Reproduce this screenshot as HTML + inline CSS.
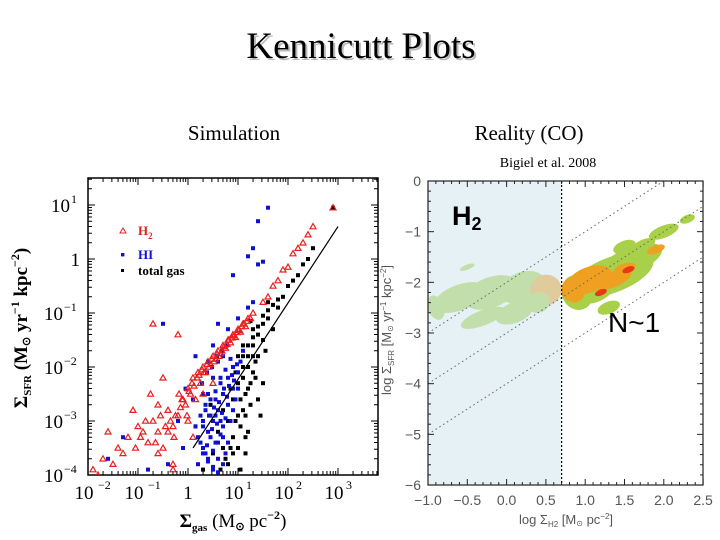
<!DOCTYPE html>
<html><head><meta charset="utf-8"><style>
body{margin:0;background:#fff;width:720px;height:540px;overflow:hidden;font-family:"Liberation Serif",serif}
svg{position:absolute;left:0;top:0}
</style></head><body>
<svg id="s" width="720" height="540">
<text x="361" y="58" font-size="37" text-anchor="middle" fill="#bbb" font-family="Liberation Serif" transform="translate(2,2)">Kennicutt Plots</text>
<text x="361" y="58" font-size="37" text-anchor="middle" fill="#000" font-family="Liberation Serif">Kennicutt Plots</text>
<text x="234" y="140" font-size="21" text-anchor="middle" font-family="Liberation Serif">Simulation</text>
<text x="529" y="140" font-size="21" text-anchor="middle" font-family="Liberation Serif">Reality (CO)</text>
<text x="548" y="167" font-size="14" text-anchor="middle" font-family="Liberation Serif">Bigiel et al. 2008</text>
<g id="L"></g>
<g id="R"></g>
</svg>
<script>
// Left chart data (log10 values)
const h2X=[-1.9,-1.8,-1.6,-1.3,-1.2,-1,-0.9,-0.8,-0.7,-0.6,-0.5,-0.4,-0.3,-0.2,-0.1,0,0.1,0.2,0.3,0.4,0.5,0.6,0.7,0.8,0.9,1,1.1,1.2,1.3,1.5,1.7,1.9,2.1,2.3,2.5,2.9,-0.7,-0.2,-1.1,-0.5,0,0.3,-1.4,0.5,-0.3,0.1,0.35,0.45,0.55,0.65,0.75,0.85,0.95,1.05,1.15,1.25,-0.6,-0.35,-0.15,0.05,0.25,
 0.02,0.08,0.12,0.18,0.22,0.28,0.32,0.38,0.42,0.48,0.52,0.58,0.62,0.68,0.72,0.78,0.82,0.88,0.92,0.98,1.02,1.08,1.12,1.18,-0.05,-0.12,-0.25,-0.4,-0.55,-0.65,-0.85,-1.05,-1.5,-0.95,-0.45,-0.28,-0.18,-0.02,0.15,1.6,1.8,2.0,2.2,2.4,-1.7,-0.75,-0.6,-0.3];
const h2Y=[-3.9,-4,-3.2,-3.6,-3.3,-3.1,-3.2,-3.4,-3,-3.2,-3.5,-2.8,-3.1,-2.9,-2.6,-2.4,-2.2,-2.1,-2,-1.9,-1.8,-1.7,-1.6,-1.5,-1.4,-1.3,-1.2,-1.1,-1,-0.8,-0.5,-0.2,0.1,0.3,0.6,0.95,-1.2,-1.4,-2.8,-2.2,-3,-2.5,-3.5,-2.3,-3.8,-3.3,-2.1,-1.95,-1.85,-1.75,-1.65,-1.55,-1.45,-1.35,-1.25,-1.1,-2.7,-3.0,-2.75,-2.5,-2.3,
 -2.45,-2.3,-2.35,-2.2,-2.15,-2.05,-2.1,-1.95,-2.0,-1.85,-1.9,-1.75,-1.8,-1.7,-1.62,-1.58,-1.5,-1.46,-1.42,-1.36,-1.32,-1.25,-1.2,-1.15,-2.7,-2.6,-2.9,-3.2,-2.9,-3.4,-3.0,-3.5,-3.8,-3.3,-3.1,-3.3,-2.5,-2.9,-2.6,-0.7,-0.4,-0.15,0.2,0.45,-3.7,-2.5,-3.6,-3.9];
const hiX=[0.2,0.3,0.4,0.5,0.6,0.7,0.8,0.9,0.4,0.5,0.6,0.3,0.2,0.4,0.5,0.6,0.7,0.8,0.9,1,0.7,0.5,1.1,0.8,1.2,1.3,1.4,1.5,1.2,1.4,1.6,0.9,-0.5,-1.6,-0.4,0.1,0.25,0.35,0.45,0.55,0.65,0.75,0.85,0.95,1.05,-1.3,0.15,0.6,1,1.3,-0.1,-0.8,0.35,0.55,0.45,0.65,
 0.25,0.3,0.38,0.42,0.48,0.52,0.58,0.62,0.68,0.72,0.78,0.82,0.88,0.92,0.98,0.3,0.4,0.5,0.6,0.7,0.35,0.45,0.55,0.65,0.75,0.85,0.28,0.38,0.48,0.58,0.68,0.78,0.5,0.6,0.7,0.4,0.55,0.65,0.75,0.3,0.9,1.0,0.8,0.15,-0.05,-0.2];
const hiY=[-3.8,-3.5,-3.2,-3,-2.8,-2.5,-2.2,-2,-2.5,-2.2,-1.9,-3,-3.3,-3.7,-3.9,-3.4,-3.1,-2.7,-2.4,-2.1,-1.8,-1.6,-1.7,-1.3,-0.9,0.2,-0.1,-0.05,0.05,0.7,0.95,-0.3,-1.2,-3.7,-3.8,-2.6,-2.9,-2.7,-3.3,-2.6,-2.2,-3.6,-3,-2.6,-1.9,-3.3,-1.8,-1.2,-1.1,-0.8,-3.5,-3.9,-3.6,-3.4,-2.9,-3.0,
 -3.4,-3.1,-3.45,-2.9,-3.15,-2.75,-3.05,-2.65,-2.85,-2.4,-2.55,-2.35,-2.15,-2.25,-1.95,-3.6,-3.75,-3.55,-3.7,-3.3,-2.8,-2.6,-2.45,-2.3,-2.05,-1.85,-2.3,-2.1,-2.0,-1.8,-1.7,-1.6,-3.85,-3.95,-3.8,-1.9,-2.9,-3.25,-2.95,-2.5,-2.8,-2.4,-3.4,-3.1,-2.4,-3.0];
const tgX=[0.3,0.5,0.6,0.7,0.8,0.9,1,1.1,1.2,1.3,1.4,1.5,1.6,1.8,1.9,2,2.1,2.3,2.5,2.9,1,1.1,1.2,1.3,1.4,1.2,0.9,0.8,1.1,1.3,1.5,1.7,1.6,1.4,1.0,1.5,1.45,0.7,1.05,0.95,1.25,0.15,0.45,1.15,0.85,1.35,1.55,
 0.9,1.0,1.1,1.2,1.3,1.05,1.15,1.25,1.35,0.95,1.05,1.15,0.85,0.75,0.65,1.1,1.2,1.3,1.4,1.5,1.6,1.7,1.8,2.2,2.4,1.25,1.0,0.9,1.15];
const tgY=[-3.9,-3.6,-3.2,-3.5,-3,-2.6,-2.3,-2,-1.8,-1.6,-1.4,-1.2,-1.1,-0.9,-0.7,-0.5,-0.4,-0.1,0.2,0.95,-3.5,-2.8,-2.4,-2.1,-2.6,-3.2,-3.3,-3.8,-1.6,-1.3,-1.5,-1.3,-0.8,-1.8,-1.8,-2.3,-2.9,-2.8,-3.9,-2.1,-1.15,-3.1,-2.7,-3.6,-2.4,-1.9,-1.7,
 -2.0,-2.1,-2.2,-2.0,-1.8,-2.6,-2.5,-2.3,-2.2,-3.0,-3.1,-2.9,-3.5,-3.7,-3.9,-1.8,-1.6,-1.45,-1.25,-1.05,-0.95,-0.85,-0.75,-0.3,0.0,-2.7,-2.9,-3.6,-3.3];
const fitX=[0.1,3];
const fitY=[-3.5,0.6];
const xTickL=[-2,-1,0,1,2,3];
const xTickLabelsL=["10","10","1","10","10","10"];
const xTickSupL=["−2","−1","","1","2","3"];
const yTickL=[1,0,-1,-2,-3,-4];
const yTickSupL=["1","","−1","−2","−3","−4"];
// Right chart data
const blobX=[1.35,1.6,1.1,0.9,2.0,2.3,1.3,1.5,1.05,0.85,1.35,1.5,1.2,1.55,-0.6,-0.2,0.2,0.5,-0.9,-0.3,0.1,0.4,-0.5,1.75,1.9];
const blobY=[-1.85,-1.55,-2.1,-2.2,-1.0,-0.75,-2.5,-1.3,-1.95,-2.15,-1.95,-1.75,-2.2,-1.75,-2.3,-2.2,-2.1,-2.15,-2.5,-2.7,-2.6,-2.4,-1.7,-1.25,-1.35];
const blobRx=[0.55,0.4,0.3,0.2,0.2,0.1,0.15,0.15,0.3,0.15,0.25,0.15,0.08,0.08,0.35,0.35,0.3,0.2,0.1,0.3,0.25,0.15,0.1,0.15,0.12];
const blobRy=[0.35,0.25,0.3,0.35,0.12,0.08,0.12,0.12,0.25,0.25,0.15,0.12,0.06,0.06,0.25,0.3,0.3,0.3,0.25,0.15,0.2,0.2,0.05,0.1,0.08];
const blobLevel=[0,0,0,0,0,0,0,0,1,1,1,1,2,2,0,0,0,1,0,0,0,0,0,0,1];
const xTickR=[-1,-0.5,0,0.5,1,1.5,2,2.5];
const xTickLabelsR=["−1.0","−0.5","0.0","0.5","1.0","1.5","2.0","2.5"];
const yTickR=[0,-1,-2,-3,-4,-5,-6];
const yTickLabelsR=["0","−1","−2","−3","−4","−5","−6"];
const lineOffsets=[-2,-3,-4];

const NS="http://www.w3.org/2000/svg";
function mk(p,t,a,txt){const e=document.createElementNS(NS,t);for(const k in a)e.setAttribute(k,a[k]);if(txt!==undefined)e.textContent=txt;p.appendChild(e);return e;}
// LEFT
const L=document.getElementById('L');
const lx=v=>88+(v+2)*50, ly=v=>259-v*54;
const lx0=88,lx1=378,ly0=178,ly1=475;
let e=mk(L,'rect',{x:lx0,y:ly0,width:lx1-lx0,height:ly1-ly0,fill:'#fff',stroke:'#000','stroke-width':1.5});

for(let d=-2;d<4;d++)for(let m=1;m<10;m++){const x=lx(d+Math.log10(m));if(x>lx1)continue;const len=m==1?7:4;
 mk(L,'line',{x1:x,y1:ly1,x2:x,y2:ly1-len,stroke:'#000','stroke-width':1});mk(L,'line',{x1:x,y1:ly0,x2:x,y2:ly0+len,stroke:'#000','stroke-width':1});}
for(let d=-4;d<2;d++)for(let m=1;m<10;m++){const y=ly(d+Math.log10(m));if(y<ly0)continue;const len=m==1?7:4;
 mk(L,'line',{x1:lx0,y1:y,x2:lx0+len,y2:y,stroke:'#000','stroke-width':1});mk(L,'line',{x1:lx1,y1:y,x2:lx1-len,y2:y,stroke:'#000','stroke-width':1});}
const clip=mk(L,'clipPath',{id:'lc'});mk(clip,'rect',{x:lx0,y:ly0,width:lx1-lx0,height:ly1-ly0});
const pts=mk(L,'g',{'clip-path':'url(#lc)'});
for(let i=0;i<tgX.length;i++){e=mk(pts,'rect',{x:lx(tgX[i])-2,y:ly(tgY[i])-2,width:4,height:4,fill:'#000'});
 }
for(let i=0;i<hiX.length;i++){e=mk(pts,'rect',{x:lx(hiX[i])-2,y:ly(hiY[i])-2,width:4,height:4,fill:'#1010d0'});
 }
for(let i=0;i<h2X.length;i++){const x=lx(h2X[i]),y=ly(h2Y[i]);
 e=mk(pts,'polygon',{points:`${x},${y-3} ${x-3},${y+2.2} ${x+3},${y+2.2}`,fill:'none',stroke:'#e82020','stroke-width':1.2});
 }
e=mk(L,'line',{x1:lx(fitX[0]),y1:ly(fitY[0]),x2:lx(fitX[1]),y2:ly(fitY[1]),stroke:'#000','stroke-width':1.2});

xTickL.forEach((v,i)=>{const t=mk(L,'text',{x:lx(v)+(xTickSupL[i]?-4:0),y:499,'font-size':19,'text-anchor':'middle','font-family':'Liberation Serif'},xTickLabelsL[i]);
 
 if(xTickSupL[i])mk(L,'text',{x:lx(v)+(v==-1||v==-2?10:8),y:489,'font-size':12,'font-family':'Liberation Serif'},xTickSupL[i]);});
yTickL.forEach((v,i)=>{const sup=yTickSupL[i];const t=mk(L,'text',{x:sup?(sup.length>1?63:70):80,y:ly(v)+7,'font-size':19,'text-anchor':'end','font-family':'Liberation Serif'},sup?'10':'1');
 
 if(sup)mk(L,'text',{x:sup.length>1?64:71,y:ly(v)-2,'font-size':12,'font-family':'Liberation Serif'},sup);});
e=mk(L,'text',{x:233,y:527,'font-size':19,'text-anchor':'middle','font-family':'Liberation Serif','font-weight':'bold'});

e.innerHTML='Σ<tspan font-size="11" dy="4">gas</tspan><tspan dy="-4" font-weight="normal"> (M</tspan><tspan font-size="11" dy="3">⊙</tspan><tspan dy="-3" font-weight="normal"> pc</tspan><tspan font-size="12" dy="-8">−2</tspan><tspan dy="8" font-weight="normal">)</tspan>';
e=mk(L,'text',{x:0,y:0,'font-size':19,'text-anchor':'middle','font-family':'Liberation Serif','font-weight':'bold',transform:'translate(27,328) rotate(-90)'});

e.innerHTML='Σ<tspan font-size="11" dy="4">SFR</tspan><tspan dy="-4"> (M</tspan><tspan font-size="11" dy="3">⊙</tspan><tspan dy="-3"> yr</tspan><tspan font-size="12" dy="-8">−1</tspan><tspan dy="8"> kpc</tspan><tspan font-size="12" dy="-8">−2</tspan><tspan dy="8">)</tspan>';
mk(L,'polygon',{points:'123,228 120,233 126,233',fill:'none',stroke:'#e02020'});
e=mk(L,'text',{x:138,y:235,'font-size':13,fill:'#e02020','font-weight':'bold','font-family':'Liberation Serif'});e.innerHTML='H<tspan font-size="9" dy="4">2</tspan>';

mk(L,'rect',{x:121,y:253,width:3.4,height:3.4,fill:'#1010d0'});
e=mk(L,'text',{x:138,y:259,'font-size':13,fill:'#1010d0','font-weight':'bold','font-family':'Liberation Serif'},'HI');

mk(L,'rect',{x:121,y:269,width:3,height:3,fill:'#000'});
e=mk(L,'text',{x:138,y:275,'font-size':13,fill:'#000','font-weight':'bold','font-family':'Liberation Serif'},'total gas');

// RIGHT
const R=document.getElementById('R');
const rx=v=>428+(v+1)*78.6, ry=v=>181-v*50.67;
const rx0=428,rx1=703,ry0=181,ry1=485;
const cl2=mk(R,'clipPath',{id:'rc'});mk(cl2,'rect',{x:rx0,y:ry0,width:rx1-rx0,height:ry1-ry0});
const rg=mk(R,'g',{'clip-path':'url(#rc)'});
const cols=['#a8d048','#f0a020','#e83818'];
const ang=Math.atan(0.6*50.67/78.6)*180/Math.PI;
for(let i=0;i<blobX.length;i++){const cx=rx(blobX[i]),cy=ry(blobY[i]);
 e=mk(rg,'ellipse',{cx,cy,rx:blobRx[i]*78.6,ry:blobRy[i]*50.67,fill:cols[blobLevel[i]],transform:`rotate(${-ang} ${cx} ${cy})`});
 }
e=mk(rg,'rect',{x:rx0,y:ry0,width:rx(0.7)-rx0,height:ry1-ry0,fill:'#d4e8ee','fill-opacity':0.6});

lineOffsets.forEach(o=>{e=mk(rg,'line',{x1:rx(-1),y1:ry(-1+o),x2:rx(2.5),y2:ry(2.5+o),stroke:'#666','stroke-width':1,'stroke-dasharray':'1.5,3'});
 });
e=mk(R,'line',{x1:rx(0.7),y1:ry0,x2:rx(0.7),y2:ry1,stroke:'#000','stroke-width':1.2,'stroke-dasharray':'2,2'});

e=mk(R,'rect',{x:rx0,y:ry0,width:rx1-rx0,height:ry1-ry0,fill:'none',stroke:'#222','stroke-width':1.2});

for(let v=-1;v<=2.5001;v+=0.1){const x=rx(v);const len=Math.abs(v*2-Math.round(v*2))<0.01?6:3;
 mk(R,'line',{x1:x,y1:ry1,x2:x,y2:ry1-len,stroke:'#222'});mk(R,'line',{x1:x,y1:ry0,x2:x,y2:ry0+len,stroke:'#222'});}
for(let v=-6;v<=0.001;v+=0.2){const y=ry(v);const len=Math.abs(v-Math.round(v))<0.01?6:3;
 mk(R,'line',{x1:rx0,y1:y,x2:rx0+len,y2:y,stroke:'#222'});mk(R,'line',{x1:rx1,y1:y,x2:rx1-len,y2:y,stroke:'#222'});}
xTickR.forEach((v,i)=>{e=mk(R,'text',{x:rx(v),y:505,'font-size':14,'text-anchor':'middle',fill:'#555','font-family':'Liberation Sans'},xTickLabelsR[i]);
 });
yTickR.forEach((v,i)=>{e=mk(R,'text',{x:421,y:ry(v)+5,'font-size':14,'text-anchor':'end',fill:'#555','font-family':'Liberation Sans'},yTickLabelsR[i]);
 });
e=mk(R,'text',{x:566,y:524,'font-size':13,'text-anchor':'middle',fill:'#555','font-family':'Liberation Sans'});
e.innerHTML='log Σ<tspan font-size="8" dy="3">H2</tspan><tspan dy="-3"> [M</tspan><tspan font-size="8" dy="2">⊙</tspan><tspan dy="-2"> pc</tspan><tspan font-size="8" dy="-5">−2</tspan><tspan dy="5">]</tspan>';

e=mk(R,'text',{x:0,y:0,'font-size':13,'text-anchor':'middle',fill:'#555','font-family':'Liberation Sans',transform:'translate(391,330) rotate(-90)'});
e.innerHTML='log Σ<tspan font-size="8" dy="3">SFR</tspan><tspan dy="-3"> [M</tspan><tspan font-size="8" dy="2">⊙</tspan><tspan dy="-2"> yr</tspan><tspan font-size="8" dy="-5">−1</tspan><tspan dy="5"> kpc</tspan><tspan font-size="8" dy="-5">−2</tspan><tspan dy="5">]</tspan>';

e=mk(R,'text',{x:452,y:225,'font-size':27,'font-weight':'bold','font-family':'Liberation Sans'});
e.innerHTML='H<tspan font-size="18" dy="5">2</tspan>';

e=mk(R,'text',{x:608,y:332,'font-size':28,'font-family':'Liberation Sans'},'N~1');

</script>
</body></html>
